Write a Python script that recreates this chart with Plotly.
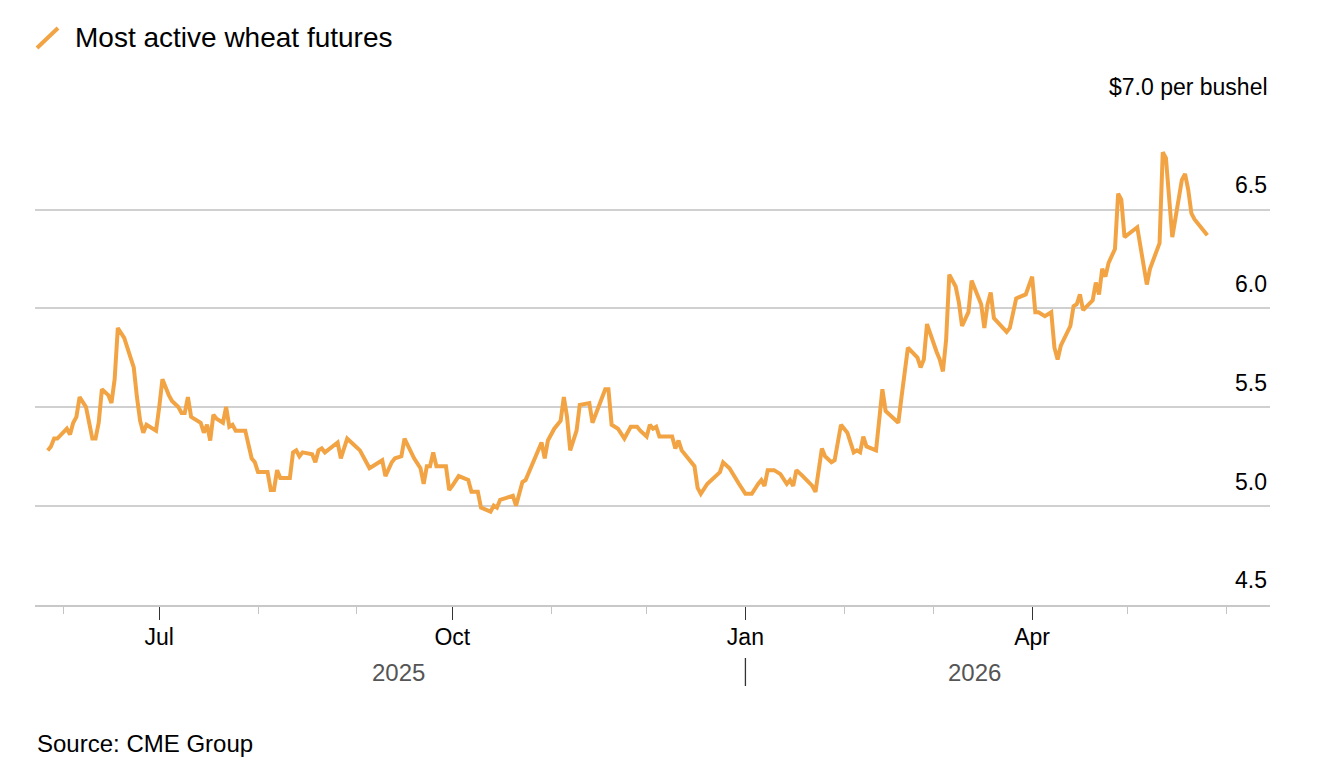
import plotly.graph_objects as go

# most active wheat futures, $ per bushel
dates = [
    '2025-05-27', '2025-05-28', '2025-05-29', '2025-05-30', '2025-06-02', '2025-06-03', '2025-06-04',
    '2025-06-05', '2025-06-06', '2025-06-08', '2025-06-09', '2025-06-10', '2025-06-11', '2025-06-12',
    '2025-06-13', '2025-06-15', '2025-06-16', '2025-06-17', '2025-06-18', '2025-06-20', '2025-06-22',
    '2025-06-23', '2025-06-24', '2025-06-25', '2025-06-26', '2025-06-27', '2025-06-28', '2025-06-30',
    '2025-07-01', '2025-07-02', '2025-07-04', '2025-07-05', '2025-07-07', '2025-07-08', '2025-07-09',
    '2025-07-10', '2025-07-11', '2025-07-13', '2025-07-14', '2025-07-15', '2025-07-16', '2025-07-17',
    '2025-07-18', '2025-07-19', '2025-07-21', '2025-07-22', '2025-07-23', '2025-07-24', '2025-07-25',
    '2025-07-28', '2025-07-29', '2025-07-30', '2025-07-31', '2025-08-01', '2025-08-04', '2025-08-05',
    '2025-08-06', '2025-08-07', '2025-08-08', '2025-08-11', '2025-08-12', '2025-08-13', '2025-08-14',
    '2025-08-15', '2025-08-18', '2025-08-19', '2025-08-20', '2025-08-21', '2025-08-22', '2025-08-26',
    '2025-08-27', '2025-08-29', '2025-08-31', '2025-09-02', '2025-09-04', '2025-09-05', '2025-09-06',
    '2025-09-09', '2025-09-10', '2025-09-12', '2025-09-13', '2025-09-15', '2025-09-16', '2025-09-18',
    '2025-09-19', '2025-09-21', '2025-09-22', '2025-09-23', '2025-09-24', '2025-09-25', '2025-09-26',
    '2025-09-29', '2025-09-30', '2025-10-01', '2025-10-03', '2025-10-06', '2025-10-07', '2025-10-09',
    '2025-10-10', '2025-10-13', '2025-10-14', '2025-10-15', '2025-10-16', '2025-10-18', '2025-10-20',
    '2025-10-21', '2025-10-23', '2025-10-24', '2025-10-26', '2025-10-29', '2025-10-30', '2025-10-31',
    '2025-11-02', '2025-11-04', '2025-11-05', '2025-11-06', '2025-11-07', '2025-11-09', '2025-11-10',
    '2025-11-12', '2025-11-13', '2025-11-14', '2025-11-16', '2025-11-18', '2025-11-19', '2025-11-20',
    '2025-11-22', '2025-11-24', '2025-11-26', '2025-11-28', '2025-11-29', '2025-12-01', '2025-12-02',
    '2025-12-03', '2025-12-04', '2025-12-05', '2025-12-09', '2025-12-10', '2025-12-11', '2025-12-12',
    '2025-12-16', '2025-12-17', '2025-12-18', '2025-12-20', '2025-12-24', '2025-12-25', '2025-12-27',
    '2025-12-28', '2025-12-30', '2026-01-01', '2026-01-03', '2026-01-05', '2026-01-06', '2026-01-07',
    '2026-01-08', '2026-01-10', '2026-01-12', '2026-01-14', '2026-01-15', '2026-01-16', '2026-01-17',
    '2026-01-19', '2026-01-22', '2026-01-23', '2026-01-25', '2026-01-26', '2026-01-28', '2026-01-29',
    '2026-01-31', '2026-02-02', '2026-02-04', '2026-02-05', '2026-02-06', '2026-02-07', '2026-02-08',
    '2026-02-11', '2026-02-13', '2026-02-14', '2026-02-18', '2026-02-19', '2026-02-21', '2026-02-24',
    '2026-02-25', '2026-02-26', '2026-02-27', '2026-03-02', '2026-03-03', '2026-03-04', '2026-03-05',
    '2026-03-06', '2026-03-08', '2026-03-09', '2026-03-10', '2026-03-12', '2026-03-13', '2026-03-16',
    '2026-03-17', '2026-03-18', '2026-03-19', '2026-03-20', '2026-03-24', '2026-03-25', '2026-03-27',
    '2026-03-30', '2026-03-31', '2026-04-01', '2026-04-02', '2026-04-03', '2026-04-05', '2026-04-07',
    '2026-04-08', '2026-04-09', '2026-04-10', '2026-04-13', '2026-04-14', '2026-04-15', '2026-04-16',
    '2026-04-17', '2026-04-20', '2026-04-21', '2026-04-22', '2026-04-23', '2026-04-24', '2026-04-25',
    '2026-04-27', '2026-04-28', '2026-04-29', '2026-04-30', '2026-05-04', '2026-05-06', '2026-05-07',
    '2026-05-08', '2026-05-11', '2026-05-12', '2026-05-13', '2026-05-15', '2026-05-18', '2026-05-19',
    '2026-05-20', '2026-05-21', '2026-05-22', '2026-05-26',
]
prices = [
    5.28, 5.30, 5.34, 5.34, 5.39, 5.36, 5.42,
    5.45, 5.55, 5.50, 5.42, 5.34, 5.34, 5.42,
    5.59, 5.56, 5.52, 5.64, 5.90, 5.85, 5.75,
    5.70, 5.55, 5.43, 5.37, 5.41, 5.40, 5.38,
    5.50, 5.64, 5.56, 5.53, 5.50, 5.47, 5.47,
    5.55, 5.45, 5.43, 5.42, 5.37, 5.41, 5.33,
    5.46, 5.44, 5.42, 5.50, 5.40, 5.41, 5.38,
    5.38, 5.30, 5.24, 5.22, 5.17, 5.17, 5.08,
    5.08, 5.18, 5.14, 5.14, 5.27, 5.28, 5.25,
    5.27, 5.26, 5.22, 5.28, 5.29, 5.27, 5.32,
    5.24, 5.34, 5.31, 5.28, 5.22, 5.19, 5.20,
    5.23, 5.15, 5.22, 5.24, 5.25, 5.34, 5.27,
    5.24, 5.19, 5.11, 5.20, 5.20, 5.27, 5.20,
    5.20, 5.08, 5.10, 5.15, 5.13, 5.07, 5.07,
    4.99, 4.97, 5.00, 4.99, 5.03, 5.04, 5.05,
    5.00, 5.12, 5.13, 5.21, 5.32, 5.24, 5.33,
    5.39, 5.43, 5.55, 5.45, 5.28, 5.38, 5.51,
    5.52, 5.52, 5.42, 5.50, 5.59, 5.59, 5.41,
    5.39, 5.34, 5.40, 5.40, 5.38, 5.35, 5.41,
    5.39, 5.40, 5.35, 5.35, 5.29, 5.33, 5.28,
    5.20, 5.09, 5.06, 5.11, 5.17, 5.22, 5.19,
    5.16, 5.11, 5.06, 5.06, 5.11, 5.13, 5.10,
    5.18, 5.18, 5.16, 5.11, 5.13, 5.10, 5.18,
    5.15, 5.10, 5.07, 5.29, 5.25, 5.22, 5.23,
    5.41, 5.37, 5.27, 5.28, 5.27, 5.35, 5.30,
    5.28, 5.59, 5.48, 5.42, 5.55, 5.80, 5.75,
    5.70, 5.74, 5.92, 5.78, 5.74, 5.68, 5.84,
    6.17, 6.11, 6.03, 5.91, 5.98, 6.14, 6.02,
    5.90, 6.02, 6.08, 5.95, 5.88, 5.90, 6.05,
    6.07, 6.11, 6.16, 5.98, 5.98, 5.96, 5.98,
    5.80, 5.74, 5.81, 5.91, 6.01, 6.02, 6.07,
    5.99, 6.04, 6.13, 6.07, 6.20, 6.16, 6.23,
    6.30, 6.58, 6.55, 6.36, 6.41, 6.22, 6.12,
    6.20, 6.33, 6.79, 6.76, 6.36, 6.65, 6.68,
    6.60, 6.48, 6.45, 6.37,
]

y_ticks = [4.5, 5.0, 5.5, 6.0, 6.5, 7.0]
y_labels = ['4.5', '5.0', '5.5', '6.0', '6.5', '']
top_label = '$7.0 per bushel'
year_labels = ['2025', '2026']
year_pos = ['2025-09-14', '2026-03-14']

orange = '#F2A444'
font = 'Liberation Sans, Arial, sans-serif'

fig = go.Figure()
fig.add_trace(go.Scatter(x=dates, y=prices, mode='lines',
                         line=dict(color=orange, width=4), hoverinfo='x+y'))

fig.update_layout(
    width=1344, height=784,
    margin=dict(l=35, r=74, t=110, b=179, autoexpand=False),
    paper_bgcolor='white', plot_bgcolor='white',
    showlegend=False,
    font=dict(family=font, size=23, color='#000000'),
    xaxis=dict(
        range=['2025-05-23', '2026-06-14 16:00'],
        tick0='2025-07-01', dtick='M3', tickformat='%b',
        ticks='outside', ticklen=13, tickwidth=1.3, tickcolor='#333333',
        minor=dict(dtick='M1', ticks='outside', ticklen=7, tickwidth=1.3, tickcolor='#c4c4c4'),
        showgrid=False, showline=True, linecolor='#c8c8c8', linewidth=1.5,
        tickfont=dict(size=23, color='#000000'),
        ticklabelstandoff=-2, zeroline=False,
    ),
    yaxis=dict(
        range=[4.497, 7.004], side='right',
        tickvals=y_ticks, ticktext=y_labels,
        ticklabelposition='inside top', ticklabelshift=-8,
        tickfont=dict(size=23, color='#000000'),
        showgrid=True, gridcolor='#d0d0d0', gridwidth=1.5,
        ticks='', showline=False, zeroline=False,
    ),
)

# unit label on the top gridline
fig.add_annotation(text=top_label, xref='paper', yref='y', x=1.0, y=7.0,
                   xanchor='right', yanchor='bottom', yshift=9, showarrow=False,
                   font=dict(size=23, color='#000000'))

# legend-like header
fig.add_shape(type='line', xref='paper', yref='paper',
              x0=(37 - 35) / 1235, y0=1.0 + (110 - 48) / 495,
              x1=(58 - 35) / 1235, y1=1.0 + (110 - 28) / 495,
              line=dict(color=orange, width=4))
fig.add_annotation(text='Most active wheat futures', xref='paper', yref='paper',
                   x=(73 - 35) / 1235, y=1.0 + (110 - 38) / 495, xanchor='left', yanchor='middle',
                   showarrow=False, font=dict(size=28, color='#000000'))

# year labels under the month labels
for yl, yp in zip(year_labels, year_pos):
    fig.add_annotation(text=yl, x=yp, xref='x', yref='paper', y=-(672 - 605) / 495,
                       yanchor='middle', showarrow=False,
                       font=dict(size=24, color='#555555'))
fig.add_shape(type='line', xref='x', yref='paper', x0='2026-01-01', x1='2026-01-01',
              y0=-(658 - 605) / 495, y1=-(686 - 605) / 495,
              line=dict(color='#333333', width=1.3))

fig.add_annotation(text='Source: CME Group', xref='paper', yref='paper',
                   x=0, y=-(743 - 605) / 495, xanchor='left', yanchor='middle',
                   showarrow=False, font=dict(size=24, color='#000000'))

# the page's default body margin would push the figure 8px off
fig.write_html('out.html', config={'displayModeBar': False},
               post_script="document.body.style.margin='0px';")
